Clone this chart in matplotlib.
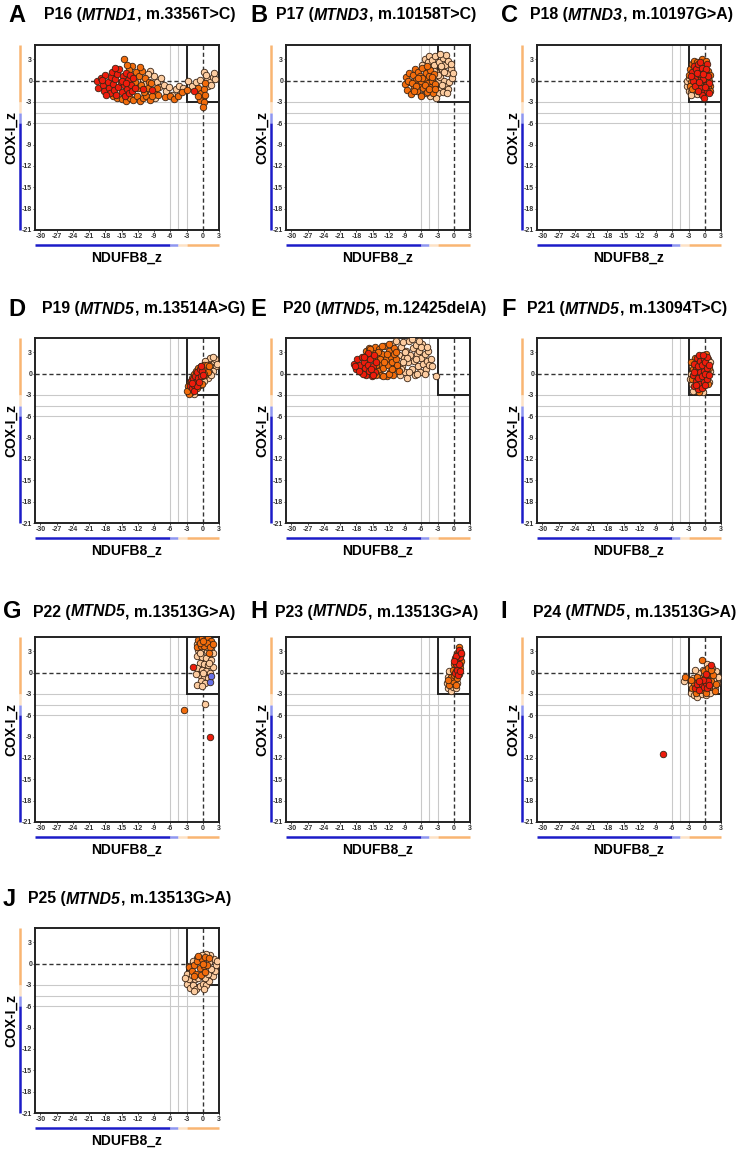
"""
COX-I vs NDUFB8 z-score scatter panels (P16-P25)
"""

import matplotlib
matplotlib.use('Agg')
import matplotlib.pyplot as plt
from matplotlib.patches import Rectangle

plt.rcParams['font.family'] = ['Liberation Sans', 'DejaVu Sans']

# ---- data: (NDUFB8_z, COX-I_z) per fibre, grouped by colour class ----
p16_peach = [(-9.7, 1.3), (-9.0, 0.6), (-8.4, -0.2), (-7.8, 0.4), (-8.0, -0.9), (-10.2, 0.9), (-7.2, -0.6),
             (-6.8, -1.5), (-6.2, -0.9), (-5.6, -2.0), (-5.0, -1.2), (-4.4, -0.8), (-3.6, -1.0), (-2.8, 0.0),
             (-2.0, -0.8), (-1.2, -0.2), (-0.5, 0.1), (0.3, 1.2), (0.8, 0.3), (1.3, -0.2), (1.8, 0.5),
             (2.2, 0.2), (1.0, -0.8), (0.6, 0.8), (1.6, -0.6), (2.0, 1.0), (-9.6, -1.8), (-8.8, -2.4),
             (-11.0, 0.2), (-10.4, -0.4)]
p16_orange = [(-16.5, -2.2), (-15.8, -2.5), (-15.0, -2.6), (-14.2, -2.8), (-13.5, -2.4), (-12.8, -2.7),
              (-12.2, -2.2), (-11.6, -2.8), (-11.0, -2.5), (-10.4, -2.2), (-9.8, -2.7), (-13.0, 2.0),
              (-12.4, 1.2), (-11.8, 0.6), (-11.2, 1.4), (-10.6, 0.4), (-10.0, -0.2), (-12.6, -0.2),
              (-12.0, -1.0), (-11.4, -0.6), (-10.8, -1.6), (-10.2, -1.0), (-9.6, -0.4), (-9.0, -1.6),
              (-8.4, -1.0), (-8.2, -2.0), (-13.6, 1.5), (-14.0, 2.2), (-14.6, 3.0), (-11.6, 1.9),
              (-9.4, -2.2), (-7.0, -2.3), (-6.0, -2.2), (-5.4, -2.6), (-4.6, -2.2), (-3.8, -1.6),
              (-3.0, -1.3), (-0.8, -1.0), (-0.4, -1.8), (0.0, -2.4), (0.3, -1.2), (-0.5, -2.7),
              (0.2, -3.0), (0.1, -3.7), (-0.9, -2.2), (0.5, -0.4), (0.4, -2.0)]
p16_red = [(-19.5, 0.0), (-19.3, -1.0), (-18.8, 0.3), (-18.5, -0.6), (-18.2, -1.4), (-18.0, 0.8),
           (-17.6, -0.2), (-17.4, -1.0), (-17.2, -1.8), (-17.0, 0.5), (-16.8, 1.2), (-16.6, -0.5),
           (-16.4, -1.3), (-16.2, 0.2), (-16.0, -2.0), (-15.8, 0.9), (-15.6, -0.9), (-15.4, 1.6),
           (-15.2, -0.2), (-15.0, -1.6), (-14.8, 0.6), (-14.6, -0.6), (-14.4, -2.2), (-14.2, 1.1),
           (-14.0, -1.2), (-13.8, 0.1), (-13.6, -1.8), (-13.4, 0.8), (-13.2, -0.6), (-13.0, -1.4),
           (-12.8, 0.3), (-17.8, -2.0), (-16.2, 1.7), (-15.0, 0.0), (-14.2, -0.4), (-18.6, 0.1),
           (-12.6, -1.0), (-11.0, -1.2), (-9.4, -1.3), (-1.7, -1.5)]

p17_peach = [(-5.8, 2.2), (-5.4, 3.0), (-5.0, 1.4), (-4.8, 2.6), (-4.6, 3.4), (-4.2, 1.9), (-4.0, 2.9),
             (-3.8, 0.6), (-3.6, 2.2), (-3.4, 3.5), (-3.2, 1.2), (-3.0, -0.2), (-2.8, 2.6), (-2.6, 0.5),
             (-2.4, -1.2), (-2.2, 1.6), (-2.0, 3.2), (-1.8, 0.0), (-1.6, 2.2), (-1.4, -0.8), (-1.2, 1.0),
             (-1.0, 2.8), (-0.8, -0.2), (-0.6, 1.6), (-0.4, 0.4), (-2.9, -1.8), (-2.0, -1.6), (-1.5, 3.6),
             (-2.6, 3.8), (-3.8, -1.5), (-3.2, -2.4), (-4.4, -2.2), (-5.2, -1.8), (-6.0, -2.0), (-5.6, 0.2),
             (-1.0, -1.2), (-0.2, 1.0), (-0.6, 2.4), (-1.8, 1.2), (-2.4, 2.0), (-3.0, 0.8), (-3.6, 1.4),
             (-4.4, 0.2), (-1.2, -1.8), (-2.2, -0.6)]
p17_orange = [(-9.0, -0.5), (-8.8, 0.5), (-8.6, -1.3), (-8.2, 1.0), (-8.0, -0.2), (-7.9, -1.9), (-7.6, 0.8),
              (-7.4, -0.9), (-7.2, 1.6), (-7.0, 0.1), (-6.8, -1.5), (-6.6, 1.2), (-6.4, -0.5), (-6.2, 0.6),
              (-6.0, -2.2), (-5.8, 1.8), (-5.6, -1.0), (-5.4, 0.2), (-5.2, 1.1), (-5.0, -1.6), (-4.8, -0.3),
              (-4.6, 0.7), (-4.4, 1.5), (-4.2, -0.9), (-4.0, 0.0), (-3.8, -1.8), (-3.6, 0.9), (-3.4, -0.5),
              (-8.4, 0.0), (-7.7, -0.4), (-6.9, -0.8), (-6.1, -0.1), (-5.3, -0.6), (-4.5, -1.2), (-5.9, 0.4),
              (-6.7, 0.4), (-7.3, -1.4), (-5.0, 2.0), (-4.1, 0.5), (-3.5, -1.2)]
p17_red = []

p18_peach = [(-3.2, -0.8), (-3.0, -1.4), (-2.8, -0.4), (-2.6, -1.6), (-2.4, -1.0), (-2.2, -1.8), (-2.0, -1.3),
             (-1.8, -1.7), (-1.6, -1.1), (-1.4, -1.9), (-1.2, -1.5), (-3.3, 0.0), (-2.9, 0.4), (-2.5, -2.0),
             (-1.9, -0.6)]
p18_orange = [(-3.0, 0.8), (-2.8, 1.6), (-2.6, -0.2), (-2.4, 2.4), (-2.2, 0.6), (-2.0, 2.8), (-1.8, 1.2),
              (-1.6, -0.2), (-1.4, 2.6), (-1.2, 0.2), (-1.0, 1.8), (-0.8, 0.6), (-0.6, 3.0), (-0.4, -0.6),
              (-0.2, 2.2), (0.0, 0.2), (0.2, 2.8), (0.4, -0.2), (0.6, 1.4), (0.8, 0.0), (1.0, -0.8),
              (1.0, 0.8), (-2.8, -0.8), (-2.4, -1.2), (-1.0, -1.2), (0.2, -1.2), (0.6, -1.0), (-1.6, 2.0),
              (-0.8, -0.4), (1.0, -1.4)]
p18_red = [(-2.4, 1.2), (-2.0, 2.0), (-1.8, 0.4), (-1.6, 1.6), (-1.4, -0.4), (-1.2, 2.4), (-1.0, 0.9),
           (-0.8, -1.0), (-0.6, 1.8), (-0.4, 0.2), (-0.2, -1.6), (0.0, 1.2), (0.2, -0.6), (0.4, 2.4),
           (0.5, -1.4), (0.6, 0.6), (0.8, -0.3), (-2.2, 0.0), (-1.8, -0.8), (-1.0, -0.2), (-0.6, -2.0),
           (-0.2, -2.5), (0.0, -0.9), (-2.6, 0.6), (-1.4, 1.0), (-0.8, 2.6), (0.3, 1.6), (-0.3, 0.9),
           (-1.2, -1.4), (0.7, -1.8)]

p19_peach = [(0.0, 0.8), (0.5, 1.4), (1.0, 1.8), (1.5, 1.2), (2.0, 1.8), (2.4, 1.0), (1.8, 0.4), (1.2, 0.2),
             (0.6, -0.2), (2.2, 2.0), (1.4, 2.2), (0.8, 0.8), (-0.4, 0.2), (1.0, -0.6), (0.2, -1.0),
             (2.6, 1.4), (1.6, -0.2), (-0.8, -1.0), (-1.2, -1.8), (-2.0, -2.4), (-1.6, -2.8), (-2.6, -2.2),
             (0.4, 1.8), (1.9, 2.4)]
p19_orange = [(-2.8, -1.8), (-2.4, -1.2), (-2.2, -2.6), (-2.0, -0.6), (-1.8, -1.8), (-1.6, 0.0), (-1.4, -1.2),
              (-1.2, 0.4), (-1.0, -0.6), (-0.8, 0.8), (-0.6, -1.6), (-0.4, 1.0), (-0.2, -0.4), (0.0, 0.4),
              (0.2, 1.2), (0.4, -0.2), (0.6, 0.6), (0.8, 1.2), (1.0, 0.2), (-1.9, -2.2), (-2.6, -2.8),
              (-1.0, -2.0), (-0.2, -1.4), (0.3, 0.0), (-0.6, 0.2), (1.2, 1.0), (-3.0, -2.4)]
p19_red = [(-2.4, -1.8), (-2.2, -1.0), (-2.0, -2.0), (-1.8, -0.8), (-1.6, -1.6), (-1.4, -0.4), (-1.2, -1.2),
           (-1.0, 0.2), (-0.8, -0.6), (-0.6, 0.6), (-0.4, -0.4), (-0.2, 0.4), (0.0, -0.2), (-1.6, -2.4),
           (-1.1, -1.8), (-0.7, -1.2), (-1.9, -1.3), (-0.3, 1.0)]

p20_peach = [(-11.4, 4.2), (-11.0, 1.6), (-10.6, 4.6), (-10.2, 2.6), (-10.0, -0.2), (-9.8, 3.8), (-9.6, 1.0),
             (-9.4, 4.4), (-9.2, 2.2), (-9.0, 0.2), (-8.8, 3.2), (-8.6, -0.6), (-8.4, 1.6), (-8.2, 4.6),
             (-8.0, 2.6), (-7.8, 0.6), (-7.6, 3.6), (-7.4, 1.8), (-7.2, -0.2), (-7.0, 4.0), (-6.8, 2.8),
             (-6.6, 1.0), (-6.4, 3.2), (-6.2, 0.2), (-6.0, 2.2), (-5.8, 4.2), (-5.6, 1.4), (-5.4, 2.8),
             (-5.2, 0.6), (-5.0, 1.8), (-4.8, 3.2), (-4.6, 1.2), (-4.2, 2.0), (-4.0, 1.0), (-9.8, 0.6),
             (-10.8, 3.2), (-9.0, 3.0), (-8.2, 0.2), (-7.8, 4.8), (-6.8, 0.0), (-6.0, 3.8), (-5.4, 0.0),
             (-7.0, 2.0), (-8.6, 2.2), (-9.4, 1.6), (-10.4, 1.0), (-6.4, 4.6), (-5.0, 3.8), (-11.2, 2.8),
             (-3.2, -0.35)]
p20_orange = [(-16.2, 3.2), (-15.6, 3.6), (-15.0, 3.0), (-14.6, 3.8), (-14.2, 2.4), (-14.0, 0.4), (-13.8, 3.4),
              (-13.6, 1.4), (-13.4, -0.2), (-13.2, 2.8), (-13.0, 0.8), (-12.8, 3.9), (-12.6, 2.0),
              (-12.4, -0.4), (-12.2, 1.2), (-12.0, 3.2), (-11.8, 0.2), (-11.6, 2.4), (-11.4, 1.6),
              (-11.2, -0.2), (-11.0, 3.6), (-10.8, 0.8), (-10.6, 2.0), (-10.4, 1.2), (-14.4, 1.2),
              (-13.6, 2.0), (-12.8, 1.6), (-12.0, 0.0), (-14.8, 2.0), (-14.0, 3.0), (-12.4, 2.8),
              (-11.4, 0.6), (-13.0, -0.4), (-15.4, 3.4), (-14.4, -0.2), (-10.2, 0.4), (-11.0, 2.8),
              (-13.2, 3.9), (-12.0, 4.2), (-10.6, 3.0)]
p20_red = [(-18.4, 1.4), (-18.0, 0.6), (-17.8, 2.0), (-17.4, 1.2), (-17.2, 0.2), (-17.0, 2.4), (-16.6, 1.6),
           (-16.4, 0.8), (-16.2, -0.2), (-16.0, 2.6), (-15.8, 1.2), (-15.6, 0.4), (-15.4, 2.0), (-15.2, -0.4),
           (-15.0, 1.0), (-14.8, 2.6), (-14.6, 0.2), (-14.4, 1.6), (-16.8, 0.0), (-17.6, 0.4), (-15.9, 2.9),
           (-14.9, -0.2), (-16.5, 2.3), (-18.2, 1.0), (-15.3, 0.7)]

p21_peach = [(-2.4, -1.4), (-2.6, 0.0), (-2.4, 1.0), (0.9, 0.4), (0.8, -1.2), (0.6, 2.0), (-2.2, -2.4),
             (-0.4, -2.6), (1.0, 1.6), (-2.8, -0.8)]
p21_orange = [(-2.3, -0.8), (-2.2, 0.6), (0.6, -1.4), (0.8, 0.8), (-1.8, 2.2), (0.2, 2.8), (-1.0, -2.6),
              (-2.6, 1.6)]
p21_red = [(-2.0, -1.8), (-1.6, -1.0), (-2.1, -0.2), (-1.7, 0.6), (-2.0, 1.4), (-1.5, 2.2), (-1.2, -2.2),
           (-0.9, -1.4), (-1.3, -0.6), (-0.9, 0.2), (-1.3, 1.0), (-0.8, 1.8), (-1.0, 2.6), (-0.5, -2.0),
           (-0.2, -1.2), (-0.6, -0.4), (-0.2, 0.4), (-0.6, 1.2), (-0.2, 2.0), (0.1, -1.6), (0.4, -0.8),
           (0.1, 0.0), (0.4, 0.8), (0.1, 1.6), (0.4, 2.4), (0.7, -0.2), (0.7, 1.2), (-1.6, -1.6),
           (-1.9, 0.2), (-0.4, 2.6)]

p22_peach = [(-1.0, 4.0), (-0.4, 4.4), (0.4, 4.2), (1.2, 4.0), (1.6, 3.4), (-0.8, 3.2), (0.0, 3.4), (0.8, 3.0),
             (1.4, 2.6), (-1.0, 2.4), (-0.2, 2.2), (0.6, 2.0), (1.6, 1.8), (-0.6, 1.4), (0.2, 1.2), (1.0, 1.0),
             (1.8, 0.8), (-1.0, 0.6), (-0.2, 0.4), (0.6, 0.2), (1.4, 0.0), (-0.6, -0.4), (0.2, -0.6),
             (1.0, -0.8), (-1.2, -0.2), (-0.4, -1.2), (0.4, -1.4), (-1.0, -1.8), (-0.2, -1.9), (0.5, -4.4),
             (1.8, 2.8), (-0.6, 2.8), (0.8, 3.6), (1.2, 1.4), (0.0, 0.0)]
p22_orange = [(-0.8, 4.6), (-0.2, 4.8), (0.4, 4.6), (1.0, 4.8), (1.6, 4.4), (-1.0, 3.6), (-0.4, 3.8),
              (0.2, 3.8), (0.8, 4.2), (1.4, 3.6), (-0.6, 4.2), (1.8, 4.0), (1.2, 2.8), (0.0, 4.4), (-3.4, -5.3)]
p22_red = [(-1.8, 0.8), (1.3, -9.0)]
p22_blue = [(1.3, -1.3), (1.5, -0.5)]

p23_peach = [(-1.0, -2.2), (-0.6, -2.6), (-0.2, -2.0), (-1.2, -1.4), (-0.6, -1.2), (0.0, -1.6), (-1.0, -0.6),
             (-0.4, -0.2), (0.2, -0.8), (0.4, -2.2), (-0.8, 0.2), (0.6, -1.4), (0.8, 0.4), (1.2, 1.2),
             (1.4, 2.6), (0.2, 0.6)]
p23_orange = [(-0.8, -1.8), (-0.2, -1.2), (0.4, -1.8), (-0.6, -0.6), (0.0, -0.4), (0.6, -0.8), (-0.2, 0.4),
              (0.4, 0.2), (1.0, -0.2), (0.0, 1.2), (0.6, 1.0), (1.2, 0.6), (0.2, 2.0), (0.8, 1.8), (1.4, 1.6),
              (0.6, 2.8), (1.2, 3.0), (-1.0, -1.0), (0.9, 3.6)]
p23_red = [(0.2, 0.0), (0.6, 0.4), (0.4, 1.2), (1.0, 1.2), (0.6, 2.0), (1.2, 2.2), (0.8, 2.6), (1.0, 3.2),
           (0.4, 2.4), (1.4, 2.8), (0.0, 1.6), (0.8, -0.4), (1.2, 0.2)]

p24_peach = [(-2.6, -2.8), (-2.0, -3.2), (-1.4, -3.4), (-0.6, -3.0), (0.2, -3.2), (1.0, -2.8), (1.8, -2.2),
             (2.2, -1.4), (2.4, -0.6), (2.0, 0.2), (1.4, 0.6), (0.6, 0.8), (-0.4, 0.4), (-1.2, 0.0),
             (-2.2, -0.8), (-2.6, -1.8), (1.6, -1.0), (0.8, -0.2), (-3.9, -1.2), (0.4, 1.2), (-1.8, 0.4)]
p24_orange = [(-2.4, -2.2), (-2.0, -1.4), (-1.6, -2.8), (-1.2, -1.8), (-0.8, -0.8), (-0.4, -2.4), (0.0, -1.2),
              (0.4, -0.2), (0.8, -2.0), (1.2, -1.2), (1.6, -0.4), (1.8, -2.6), (-0.2, 0.2), (-0.5, 1.8),
              (0.6, 0.6), (1.2, 0.4), (-1.4, -0.6), (2.0, -1.6), (-3.7, -0.6), (-2.6, -1.0), (0.2, -2.8)]
p24_red = [(-1.8, -2.2), (-1.4, -1.6), (-1.0, -2.4), (-0.6, -1.6), (-0.2, -2.0), (0.2, -1.4), (0.4, -2.2),
           (0.0, -0.8), (0.6, -1.2), (-0.4, -1.0), (0.2, -0.2), (1.2, 1.0), (-1.0, -1.2), (0.8, -1.8),
           (-7.75, -11.4)]

p25_peach = [(-3.0, -2.8), (-2.4, -3.4), (-1.8, -3.0), (-1.2, -3.6), (-0.6, -3.2), (0.0, -2.8), (0.6, -3.0),
             (1.2, -2.4), (1.8, -1.8), (2.2, -1.0), (2.4, -0.2), (2.0, 0.6), (1.4, 1.2), (0.6, 1.4),
             (-0.2, 1.2), (-1.0, 0.8), (-1.8, 0.4), (-2.6, -0.4), (-3.0, -1.4), (-2.6, -2.2), (-2.0, -1.6),
             (-1.4, -2.2), (-0.8, -2.0), (-0.2, -1.8), (0.4, -2.0), (1.0, -1.4), (1.6, -0.8), (1.2, 0.2),
             (-3.2, -2.0), (-1.6, -3.8), (2.6, 0.4), (0.2, -3.6)]
p25_orange = [(-2.6, -0.5), (-2.0, -1.0), (-1.6, -0.2), (-1.2, -1.4), (-1.0, 0.4), (-0.6, -0.6), (-0.2, 0.6),
              (0.2, -0.4), (0.4, 0.9), (0.8, -0.2), (1.2, 0.8), (-0.4, -1.6), (0.4, -1.2), (-1.6, -1.8),
              (0.0, 0.0), (-0.8, 1.0)]

letters = ['A', 'B', 'C', 'D', 'E', 'F', 'G', 'H', 'I', 'J']
patients = ['P16', 'P17', 'P18', 'P19', 'P20', 'P21', 'P22', 'P23', 'P24', 'P25']
genes = ['MTND1', 'MTND3', 'MTND3', 'MTND5', 'MTND5', 'MTND5', 'MTND5', 'MTND5', 'MTND5', 'MTND5']
variants = ['m.3356T>C', 'm.10158T>C', 'm.10197G>A', 'm.13514A>G', 'm.12425delA', 'm.13094T>C',
            'm.13513G>A', 'm.13513G>A', 'm.13513G>A', 'm.13513G>A']

x_ticks = [-30, -27, -24, -21, -18, -15, -12, -9, -6, -3, 0, 3]
y_ticks = [3, 0, -3, -6, -9, -12, -15, -18, -21]

RED = '#ee1c0c'
ORANGE = '#f26c0c'
PEACH = '#fccca0'
BLUE = '#6670e6'
BAR_ORANGE = '#f9b572'
BAR_PALE = '#fde2c6'
BAR_LBLUE = '#8f96f0'
BAR_BLUE = '#1c1cc8'

groups = [
    [(p16_peach, PEACH), (p16_orange, ORANGE), (p16_red, RED)],
    [(p17_peach, PEACH), (p17_orange, ORANGE), (p17_red, RED)],
    [(p18_peach, PEACH), (p18_orange, ORANGE), (p18_red, RED)],
    [(p19_peach, PEACH), (p19_orange, ORANGE), (p19_red, RED)],
    [(p20_peach, PEACH), (p20_orange, ORANGE), (p20_red, RED)],
    [(p21_peach, PEACH), (p21_orange, ORANGE), (p21_red, RED)],
    [(p22_peach, PEACH), (p22_orange, ORANGE), (p22_red, RED), (p22_blue, BLUE)],
    [(p23_peach, PEACH), (p23_orange, ORANGE), (p23_red, RED)],
    [(p24_peach, PEACH), (p24_orange, ORANGE), (p24_red, RED)],
    [(p25_peach, PEACH), (p25_orange, ORANGE)],
]

# layout in pixels
W, H = 741, 1150
col_left = [35, 286, 537]
row_top = [45, 338, 637, 928]
title_y = [15, 309, 612, 899]
letter_x = [8, 250, 501, 8, 250, 501, 3, 250, 500, 3]
title_x = [44, 276, 530, 42, 283, 527, 33, 275, 533, 28]
AX_W, AX_H = 184, 185

fig = plt.figure(figsize=(W / 100, H / 100), dpi=100)
renderer = fig.canvas.get_renderer()


def draw_title(x_px, y_px, parts, size):
    x = x_px
    for txt, style in parts:
        t = fig.text(x / W, 1 - y_px / H, txt, fontsize=size, fontweight='bold',
                     fontstyle=style, va='center', ha='left')
        x += t.get_window_extent(renderer=renderer).width


for i in range(10):
    row, col = divmod(i, 3)
    left, top = col_left[col], row_top[row]
    ax = fig.add_axes([left / W, 1 - (top + AX_H) / H, AX_W / W, AX_H / H])
    ax.set_xlim(-31, 3)
    ax.set_ylim(-21, 5)

    for v in (-6, -4.5, -3):
        ax.axvline(v, color='#c9c9c9', lw=0.8, zorder=1)
        ax.axhline(v, color='#c9c9c9', lw=0.8, zorder=1)
    ax.axvline(0, color='#333333', lw=1.0, ls=(0, (3, 2)), zorder=2)
    ax.axhline(0, color='#333333', lw=1.0, ls=(0, (3, 2)), zorder=2)
    ax.add_patch(Rectangle((-3, -3), 6, 8, fill=False, lw=1.4, ec='#222222', zorder=2.5))

    for pts, colour in groups[i]:
        if not pts:
            continue
        xs = [p[0] for p in pts]
        ys = [p[1] for p in pts]
        ax.scatter(xs, ys, s=22, c=colour, edgecolors='#3a2414', linewidths=0.6, zorder=3)

    for sp in ax.spines.values():
        sp.set_linewidth(1.4)
        sp.set_color('#222222')

    ax.set_xticks(x_ticks)
    ax.set_yticks(y_ticks)
    ax.set_xticklabels([str(t) for t in x_ticks])
    ax.set_yticklabels([str(t) for t in y_ticks])
    ax.tick_params(labelsize=5, length=1.5, width=0.6, pad=0.5, colors='#333333')
    for lab in ax.get_xticklabels() + ax.get_yticklabels():
        lab.set_fontweight('bold')

    # coloured threshold bars along the axes
    ybar = [(5, -3, BAR_ORANGE), (-3, -4.5, BAR_PALE), (-4.5, -6, BAR_LBLUE), (-6, -21, BAR_BLUE)]
    for y0, y1, c in ybar:
        ax.plot([-0.08, -0.08], [y0, y1], color=c, lw=1.8, solid_capstyle='butt', zorder=0.5,
                transform=ax.get_yaxis_transform(), clip_on=False)
    xbar = [(-31, -6, BAR_BLUE), (-6, -4.5, BAR_LBLUE), (-4.5, -3, BAR_PALE), (-3, 3, BAR_ORANGE)]
    for x0, x1, c in xbar:
        ax.plot([x0, x1], [-0.083, -0.083], color=c, lw=1.8, solid_capstyle='butt', zorder=0.5,
                transform=ax.get_xaxis_transform(), clip_on=False)

    fig.text((left + AX_W / 2) / W, 1 - (top + AX_H + 28) / H, 'NDUFB8_z',
             fontsize=10, fontweight='bold', ha='center', va='center')
    fig.text((left - 24) / W, 1 - (top + AX_H / 2) / H, 'COX-I_z', rotation=90,
             fontsize=10, fontweight='bold', ha='center', va='center')

    fig.text(letter_x[i] / W, 1 - title_y[row] / H, letters[i], fontsize=17,
             fontweight='bold', ha='left', va='center')
    draw_title(title_x[i], title_y[row],
               [(patients[i] + ' (', 'normal'), (genes[i], 'italic'), (', ' + variants[i] + ')', 'normal')],
               11.4)

fig.savefig('out.png', dpi=100)
